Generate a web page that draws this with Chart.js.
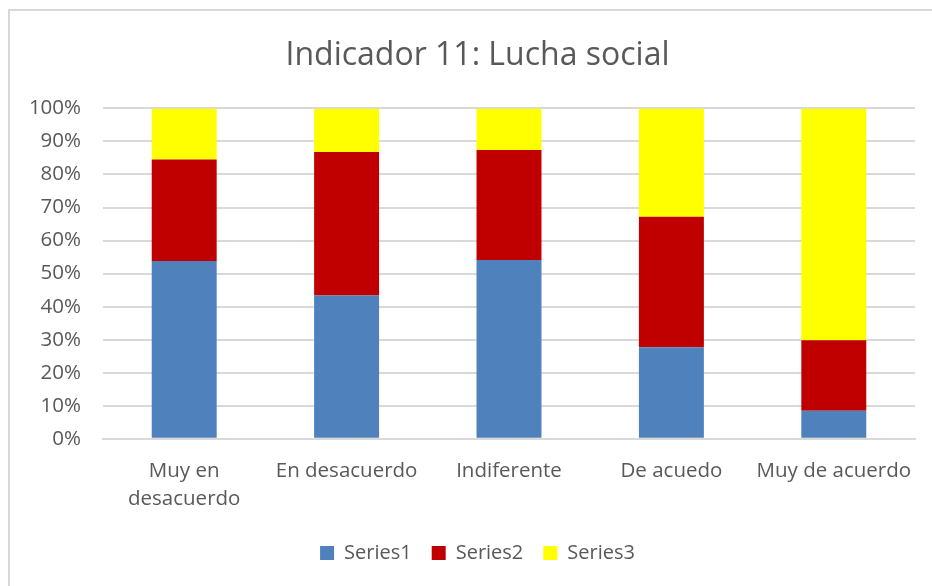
<!DOCTYPE html>
<html>
<head>
<meta charset="utf-8">
<script src="https://cdn.jsdelivr.net/npm/chart.js@4"></script>
<style>
  html, body { margin: 0; padding: 0; background: #fff; overflow: hidden; }
  #frame { position: absolute; left: 8px; top: 9px; width: 1000px; height: 700px; border: 2px solid #d9d9d9; box-sizing: border-box; }
  #wrap { position: absolute; left: 0; top: 0; width: 932px; height: 586px; }
</style>
</head>
<body>
<div id="frame"></div>
<div id="wrap"><canvas id="chart"></canvas></div>
<script>
// Categories and series values (percent of each bar)
const categories = [['Muy en', 'desacuerdo'], 'En desacuerdo', 'Indiferente', 'De acuedo', 'Muy de acuerdo'];
const series1 = [53.8, 43.4, 54.1, 27.7, 8.5];
const series2 = [30.7, 43.4, 33.3, 39.5, 21.3];
const series3 = [15.5, 13.2, 12.6, 32.8, 70.2];
const yTicks = [0, 10, 20, 30, 40, 50, 60, 70, 80, 90, 100];

const fontFamily = '"Open Sans", "Noto Sans", sans-serif';
const textColor = '#595959';

// Title and legend sit a little right of the canvas centre in the original
const shiftBlocks = {
    id: 'shiftBlocks',
    afterLayout(chart) {
        const dx = 10;
        if (chart.titleBlock) { chart.titleBlock.left += dx; chart.titleBlock.right += dx; }
        if (chart.legend) { chart.legend.left += dx; chart.legend.right += dx; }
    }
};

const ctx = document.getElementById('chart').getContext('2d');
const chart = new Chart(ctx, {
    type: 'bar',
    data: {
        labels: categories,
        datasets: [{
            label: 'Series1',
            data: series1,
            backgroundColor: '#4f81bd'
        }, {
            label: 'Series2',
            data: series2,
            backgroundColor: '#c00000'
        }, {
            label: 'Series3',
            data: series3,
            backgroundColor: '#ffff00'
        }]
    },
    options: {
        responsive: true,
        maintainAspectRatio: false,
        animation: false,
        layout: {
            padding: { left: 20, right: 17, top: 37, bottom: 13 }
        },
        datasets: {
            bar: {
                barPercentage: 0.4,
                categoryPercentage: 1.0
            }
        },
        plugins: {
            title: {
                display: true,
                text: 'Indicador 11: Lucha social',
                color: textColor,
                font: { family: fontFamily, size: 32, weight: 'normal', lineHeight: 1.2 },
                padding: { top: 0, bottom: 33 }
            },
            legend: {
                position: 'bottom',
                labels: {
                    color: textColor,
                    font: { family: fontFamily, size: 20 },
                    boxWidth: 14,
                    boxHeight: 14,
                    padding: 20
                }
            },
            tooltip: { enabled: false }
        },
        scales: {
            x: {
                stacked: true,
                grid: { display: false },
                border: { color: '#d9d9d9', width: 2 },
                ticks: {
                    color: textColor,
                    font: { family: fontFamily, size: 20.5, lineHeight: 1.37 },
                    maxRotation: 0,
                    autoSkip: false,
                    padding: 10
                }
            },
            y: {
                stacked: true,
                min: 0,
                max: 100,
                afterBuildTicks: function(axis) {
                    axis.ticks = yTicks.map(v => ({ value: v }));
                },
                afterFit: function(axis) {
                    axis.width = 83;
                },
                grid: { color: '#d9d9d9', lineWidth: 2, drawTicks: false },
                border: { display: false },
                ticks: {
                    color: textColor,
                    font: { family: fontFamily, size: 20.5 },
                    padding: 22,
                    callback: v => v + '%'
                }
            }
        }
    },
    plugins: [shiftBlocks]
});
</script>
</body>
</html>
